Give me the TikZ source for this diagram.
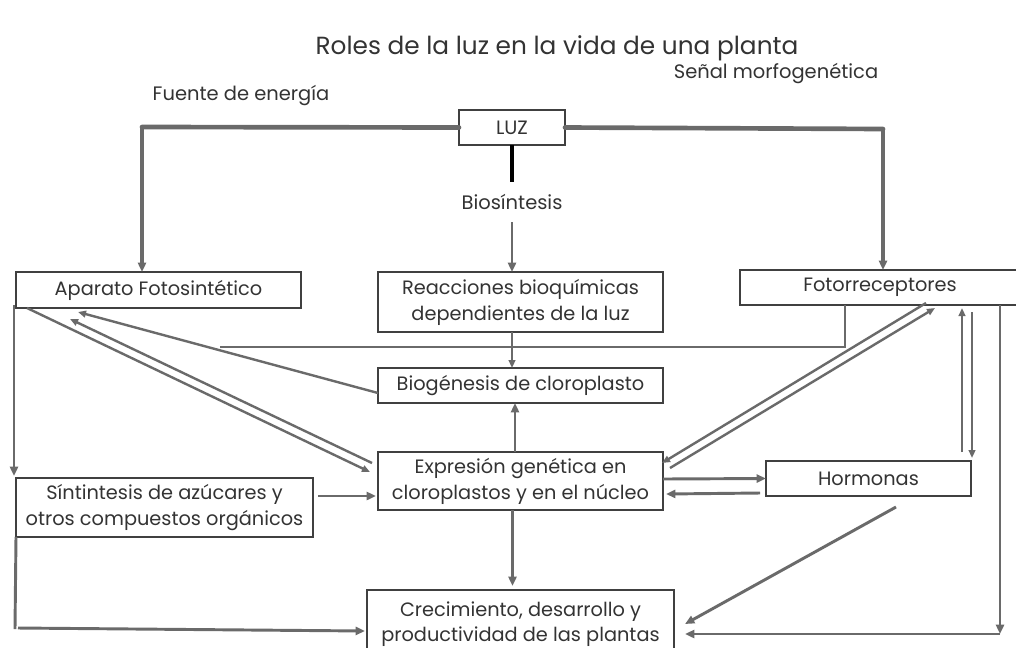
\documentclass[tikz,border=0pt]{standalone}
\usepackage{fontspec}
\setmainfont{Poppins}
\usetikzlibrary{arrows.meta,calc}
\definecolor{linegray}{HTML}{6A6A6A}
\definecolor{boxgray}{HTML}{404040}
\definecolor{textgray}{HTML}{333333}
\tikzset{
  box/.style={draw=boxgray, line width=0.8pt, inner sep=0pt, outer sep=0pt, align=center,
    text=textgray, font=\fontsize{14.5}{19.5}\selectfont},
  lbl/.style={inner sep=0pt, text=textgray, font=\fontsize{14.6}{17}\selectfont},
  conn/.style={draw=linegray, line width=2.2pt, -{Triangle[length=7pt,width=6pt]}},
  thinconn/.style={draw=linegray, line width=1.8pt, -{Triangle[length=6pt,width=5pt]}},
  bar/.style={draw=linegray, line width=3.5pt, line cap=round}
}
\begin{document}
\begin{tikzpicture}[x=0.75pt,y=-0.75pt]
\useasboundingbox[fill=white] (0,0) rectangle (1016,647);
% titles
\node[lbl, font=\fontsize{18.6}{21}\selectfont] (title) at (557,48) {Roles de la luz en la vida de una planta};
\node[lbl] (fuente) at (241,96) {Fuente de energía};
\node[lbl] (senal) at (776,74) {Señal morfogenética};
% boxes
\node[box, minimum width=79.5pt, minimum height=26.25pt] (luz) at (512,127.5) {LUZ};
\node[lbl, minimum height=30pt] (bios) at (512,202) {Biosíntesis};
\node[box, minimum width=213.75pt, minimum height=27pt] (apa) at (158.5,290) {Aparato Fotosintético};
\node[box, minimum width=213.75pt, minimum height=45pt] (rea) at (520.5,302) {Reacciones bioquímicas\\dependientes de la luz};
\node[box, minimum width=210pt, minimum height=26.25pt] (fot) at (880,287.5) {Fotorreceptores};
\node[box, minimum width=213.75pt, minimum height=26.25pt] (bio) at (520.5,385.5) {Biogénesis de cloroplasto};
\node[box, minimum width=213.75pt, minimum height=43.5pt] (exp) at (520.5,481) {Expresión genética en\\cloroplastos y en el núcleo};
\node[box, minimum width=153.75pt, minimum height=26.25pt] (hor) at (868.5,478.5) {Hormonas};
\node[box, minimum width=222.75pt, minimum height=44.25pt] (sin) at (164.5,507.5) {Síntintesis de azúcares y\\otros compuestos orgánicos};
\node[box, minimum width=230.25pt, minimum height=51pt, font=\fontsize{14.5}{18.5}\selectfont] (cre) at (520.5,624) {Crecimiento, desarrollo y\\productividad de las plantas};
% junctions
\coordinate (jl) at (142,127);
\coordinate (jr) at (883,129);
\coordinate (fb) at (845,347);
\coordinate (fe) at (220,347);
\coordinate (sl) at (15,629);
\coordinate (fr) at (1000,634);
% light source
\draw[bar] (luz.west) -- (jl);
\draw[conn, line width=2.6pt] (jl) -- (jl |- apa.north);
\draw[bar] (luz.east) -- (jr);
\draw[conn, line width=2.6pt] (jr) -- (jr |- fot.north);
\draw[black, line width=3pt] (luz.south) -- (bios.north);
\draw[conn] (bios.south) -- (bios.south |- rea.north);
% centre column
\draw[thinconn, line width=1.5pt] (bios.south |- rea.south) -- (bios.south |- bio.north);
\draw[draw=linegray, line width=1.8pt] (fot.south -| fb) -- (fb) -- (fe);
\draw[conn] ($(exp.north)+(-5.5,0)$) -- ($(bio.south)+(-5.5,0)$);
\draw[conn] ($(exp.south)+(-8,0)$) -- ($(cre.north)+(-8,-4)$);
% left side
\draw[thinconn] ($(bio.south west)+(0,-10)$) -- ($(apa.south west)+(62,4)$);
\draw[thinconn] ($(apa.south west)+(11,0)$) -- ($(exp.north west)+(-8,20)$);
\draw[thinconn] ($(exp.north west)+(-6,11)$) -- ($(apa.south west)+(54,11)$);
\draw[conn] ($(apa.south west)+(-2,-3)$) -- ($(sin.north west)+(-2,-2)$);
\draw[conn] ($(sin.east)+(5,-11.5)$) -- ($(exp.west)+(-2,15)$);
\draw[conn, -] (sin.south west) -- (sl);
\draw[conn] ($(sl)+(3,-1)$) -- ($(cre.west)+(-2,7)$);
% right side
\draw[conn] ($(exp.east)+(0,-2)$) -- (hor.west);
\draw[conn] ($(hor.south west)+(-6,-3)$) -- ($(exp.east)+(3,13)$);
\draw[thinconn] ($(fot.south west)+(186,-2)$) -- ($(exp.north east)+(-1,11)$);
\draw[thinconn] ($(exp.north east)+(7,16)$) -- ($(fot.south west)+(195,3)$);
\draw[thinconn] ($(hor.north east)+(-9,-9)$) -- ($(fot.south west)+(222,3)$);
\draw[thinconn] ($(fot.south west)+(232,7)$) -- ($(hor.north east)+(1,-3)$);
\draw[conn] (fot.south -| fr) -- (fr);
\draw[conn] (fr) -- ($(cre.east)+(11,10)$);
\draw[conn] ($(hor.south)+(27.5,11)$) -- ($(cre.east)+(11,0)$);
\end{tikzpicture}
\end{document}
